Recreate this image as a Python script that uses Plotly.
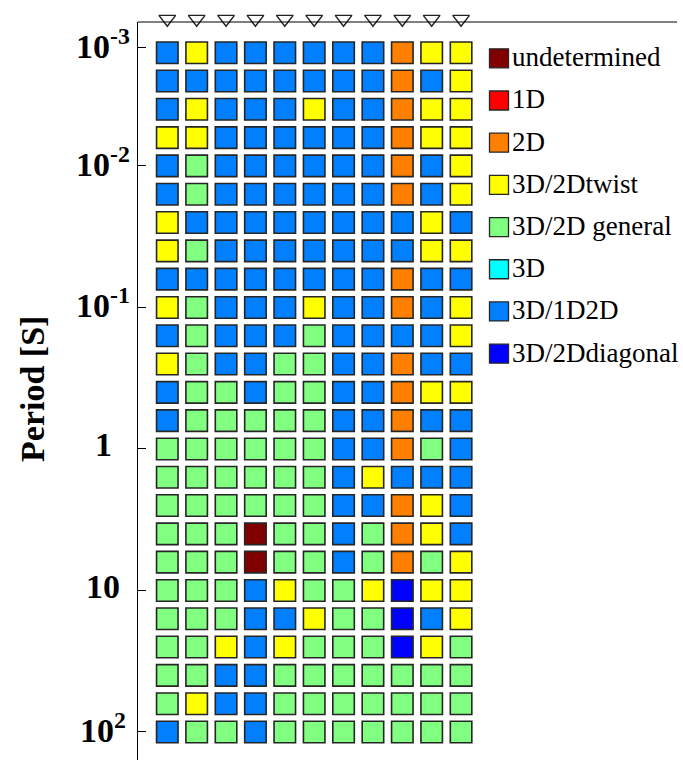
import plotly.graph_objects as go

# ---------------- data ----------------
categories = ["undetermined", "1D", "2D", "3D/2Dtwist", "3D/2D general",
              "3D", "3D/1D2D", "3D/2Ddiagonal"]
category_codes = ["U", "R", "O", "Y", "G", "C", "B", "D"]
category_colors = ["#800000", "#ff0000", "#ff8000", "#ffff00", "#80ff80",
                   "#00ffff", "#0080ff", "#0000ff"]

stations = list(range(11))          # 11 sites (columns)
# one string per period row (top = shortest period), one code per site
dimensionality_rows = [
    "BYBBBBBBOYY",
    "BBBBBBBBOBY",
    "BYBBBYBBOYY",
    "YYBBBBBBOYY",
    "BGBBBBBBOBY",
    "BGBBBBBBOBY",
    "YBBBBBBBBYB",
    "YGBBBBBBBYY",
    "BBBBBBBBOBB",
    "YGBBBYBBOBY",
    "BGBBBGBBBBY",
    "YGBBGGBBOBB",
    "BGGBGGBBOYY",
    "BGGGGGBBOBB",
    "GGGGGGBBOGB",
    "GGGGGGBYBBB",
    "GGGGGGBBOYB",
    "GGGUGGBGOYB",
    "GGGUGGBGOGY",
    "GGGBYGGYDYY",
    "GGGBBYGGDBY",
    "GGYBYGGGDYG",
    "GGBBGGGGGGG",
    "GYBBGGGGGGG",
    "BGGBGGGGGGG",
]
period_rows = list(range(len(dimensionality_rows)))
tick_rows = [-0.18, 4, 9, 14, 19, 24]
tick_labels = ["10<sup>-3</sup>", "10<sup>-2</sup>", "10<sup>-1</sup>",
               "1", "10", "10<sup>2</sup>"]

# ---------------- figure ----------------
FONT = "Liberation Serif, Times New Roman, serif"
W, H = 683, 760
TOP = 22                      # pixel of the top axis line
Y_TOP = 1 - TOP / H           # paper fraction of that line

fig = go.Figure()

for code, name, color in zip(category_codes, categories, category_colors):
    xs, ys = [], []
    for r, row in zip(period_rows, dimensionality_rows):
        for c, ch in zip(stations, row):
            if ch == code:
                xs.append(c)
                ys.append(r)
    if xs:
        fig.add_trace(go.Scatter(
            x=xs, y=ys, mode="markers", name=name, showlegend=False,
            marker=dict(symbol="square", size=21.5, color=color,
                        line=dict(color="#262626", width=1.6)),
            hoverinfo="skip"))

# station triangles on the top axis line (own y axis strip at the top)
fig.add_trace(go.Scatter(
    x=stations, y=[19] * len(stations), mode="markers", showlegend=False,
    cliponaxis=False, xaxis="x", yaxis="y3",
    marker=dict(symbol="triangle-down", size=14.5, color="white",
                line=dict(color="#222222", width=1.4)),
    hoverinfo="skip"))

# custom legend (drawn on its own axes)
fig.add_trace(go.Scatter(
    x=[0] * len(categories), y=list(range(len(categories))),
    mode="markers",
    marker=dict(symbol="square", size=19, color=category_colors,
                line=dict(color="#262626", width=1.3)),
    xaxis="x2", yaxis="y2", showlegend=False, cliponaxis=False,
    hoverinfo="skip"))

annotations = []
for i, name in enumerate(categories):
    annotations.append(dict(
        x=0, y=i, xref="x2", yref="y2", text=name, showarrow=False,
        xanchor="left", yanchor="middle", xshift=11, yshift=1,
        font=dict(family=FONT, size=27, color="black")))
for r, lab in zip(tick_rows, tick_labels):
    annotations.append(dict(
        x=-0.0649, y=r, xref="paper", yref="y", text=lab, showarrow=False,
        xanchor="center", yanchor="middle", yshift=4,
        font=dict(family=FONT, size=34, color="black", weight="bold")))
annotations.append(dict(
    x=-0.1967, y=1 - 389 / H, xref="paper", yref="paper", text="Period [S]",
    textangle=-90, showarrow=False, xanchor="center", yanchor="middle",
    font=dict(family=FONT, size=34, color="black", weight="bold")))

fig.update_layout(
    width=W, height=H,
    margin=dict(l=138, r=6, t=0, b=0),
    paper_bgcolor="white", plot_bgcolor="white",
    showlegend=False,
    xaxis=dict(domain=[0, 1], range=[-0.997, 17.35], anchor="y",
               showline=False, showgrid=False, zeroline=False,
               showticklabels=False, ticks="", fixedrange=True),
    yaxis=dict(domain=[0, Y_TOP], range=[24.99, -1.085], showline=True,
               linecolor="black", linewidth=1, showgrid=False,
               zeroline=False, tickvals=tick_rows, ticks="inside", ticklen=8,
               tickcolor="black", showticklabels=False),
    yaxis3=dict(domain=[0.95, 1], range=[0.05 * H, 0], visible=False,
                anchor="x"),
    xaxis2=dict(domain=[0.65, 1], range=[-10.65, 178], visible=False,
                anchor="y2"),
    yaxis2=dict(domain=[0, Y_TOP], range=[16.63, -0.86], visible=False,
                anchor="x2"),
    shapes=[dict(type="line", xref="paper", yref="paper",
                 x0=0, x1=1, y0=Y_TOP, y1=Y_TOP,
                 line=dict(color="black", width=1))],
    annotations=annotations,
)

fig.write_html("out.html")
